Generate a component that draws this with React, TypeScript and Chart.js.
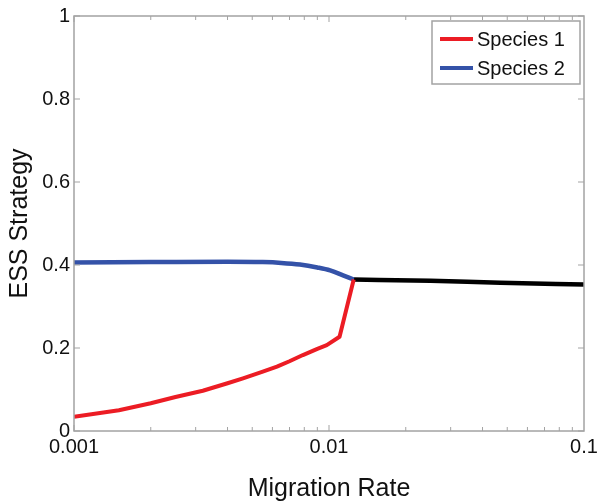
import React, { useEffect, useRef } from "react";
import { Chart, registerables } from "chart.js";

Chart.register(...registerables);

const species1X = [0.001, 0.0015, 0.002, 0.0025, 0.0032, 0.004, 0.0046, 0.0055, 0.00625, 0.007, 0.0079, 0.009, 0.0098, 0.011, 0.0125];
const species1Y = [0.034, 0.05, 0.067, 0.082, 0.097, 0.115, 0.127, 0.143, 0.155, 0.168, 0.183, 0.198, 0.207, 0.227, 0.365];

const species2X = [0.001, 0.002, 0.004, 0.0055, 0.0065, 0.00769, 0.009, 0.0101, 0.01135, 0.0125];
const species2Y = [0.406, 0.407, 0.408, 0.407, 0.405, 0.401, 0.394, 0.387, 0.375, 0.365];

const mergedX = [0.0125, 0.025, 0.047, 0.1];
const mergedY = [0.365, 0.362, 0.357, 0.353];

const xTickValues = [0.001, 0.01, 0.1];
const xTickLabels = ["0.001", "0.01", "0.1"];
const yTickValues = [0, 0.2, 0.4, 0.6, 0.8, 1];
const yTickLabels = ["0", "0.2", "0.4", "0.6", "0.8", "1"];

const legendLabels = ["Species 1", "Species 2"];

const RED = "rgb(236,28,36)";
const BLUE = "rgb(52,82,168)";
const AXIS = "#a3a3a3";
const FONT = '"Liberation Sans", Arial, Helvetica, sans-serif';

const toPoints = (xs: number[], ys: number[]) => xs.map((x, i) => ({ x, y: ys[i] }));

const framePlugin = {
  id: "frame",
  afterDraw(chart: any) {
    const { ctx, chartArea } = chart;
    const { left, right, top, bottom } = chartArea;
    const xs = chart.scales.x;
    const ys = chart.scales.y;
    ctx.save();
    ctx.strokeStyle = AXIS;
    ctx.lineWidth = 1.5;
    ctx.strokeRect(left, top, right - left, bottom - top);
    ctx.lineWidth = 1;
    const tl = 5;
    for (let d = -3; d < -1; d++) {
      for (let m = 1; m <= 9; m++) {
        const v = m * Math.pow(10, d);
        const px = xs.getPixelForValue(v);
        const len = m === 1 ? tl + 1 : tl - 1;
        ctx.beginPath();
        ctx.moveTo(px, bottom);
        ctx.lineTo(px, bottom - len);
        ctx.moveTo(px, top);
        ctx.lineTo(px, top + len);
        ctx.stroke();
      }
    }
    for (const v of yTickValues) {
      const py = ys.getPixelForValue(v);
      ctx.beginPath();
      ctx.moveTo(left, py);
      ctx.lineTo(left + tl + 1, py);
      ctx.moveTo(right, py);
      ctx.lineTo(right - tl - 1, py);
      ctx.stroke();
    }
    const bx = 432, by = 21, bw = 148, bh = 63;
    ctx.fillStyle = "#ffffff";
    ctx.fillRect(bx, by, bw, bh);
    ctx.strokeStyle = AXIS;
    ctx.lineWidth = 1.5;
    ctx.strokeRect(bx, by, bw, bh);
    const colors = [RED, BLUE];
    const rows = [39, 68];
    ctx.font = `20px ${FONT}`;
    ctx.textBaseline = "middle";
    ctx.textAlign = "left";
    legendLabels.forEach((lab, i) => {
      ctx.strokeStyle = colors[i];
      ctx.lineWidth = 4;
      ctx.beginPath();
      ctx.moveTo(440, rows[i]);
      ctx.lineTo(473, rows[i]);
      ctx.stroke();
      ctx.fillStyle = "#111";
      ctx.fillText(lab, 477, rows[i] + 1);
    });
    ctx.restore();
  },
};

export default function App() {
  const ref = useRef<HTMLCanvasElement>(null);
  useEffect(() => {
    if (!ref.current) return;
    const chart = new Chart(ref.current, {
      type: "line",
      data: {
        datasets: [
          {
            label: legendLabels[0],
            data: toPoints(species1X, species1Y),
            borderColor: RED,
            borderWidth: 4,
            pointRadius: 0,
            tension: 0,
            borderJoinStyle: "round",
            fill: false,
          },
          {
            label: legendLabels[1],
            data: toPoints(species2X, species2Y),
            borderColor: BLUE,
            borderWidth: 4.5,
            pointRadius: 0,
            cubicInterpolationMode: "monotone",
            fill: false,
          },
          {
            label: "merged",
            data: toPoints(mergedX, mergedY),
            borderColor: "#000000",
            borderWidth: 4.5,
            pointRadius: 0,
            cubicInterpolationMode: "monotone",
            fill: false,
          },
        ],
      },
      options: {
        responsive: false,
        animation: false,
        layout: { padding: { left: 0, top: 15, right: 22, bottom: 0 } },
        plugins: { legend: { display: false }, tooltip: { enabled: false } },
        scales: {
          x: {
            type: "logarithmic",
            min: 0.001,
            max: 0.1,
            grid: { display: false, drawTicks: false },
            border: { display: false },
            afterBuildTicks: (s: any) => {
              s.ticks = xTickValues.map((v) => ({ value: v }));
            },
            afterFit: (s: any) => {
              s.height = 73;
            },
            ticks: {
              autoSkip: false,
              maxRotation: 0,
              padding: 4,
              color: "#111",
              font: { size: 20, family: FONT },
              callback: (v: any) => {
                const i = xTickValues.findIndex((t) => Math.abs(t - v) < 1e-9);
                return i >= 0 ? xTickLabels[i] : "";
              },
            },
            title: {
              display: true,
              text: "Migration Rate",
              color: "#111",
              font: { size: 25, family: FONT },
              padding: { top: 0, bottom: 0 },
            },
          },
          y: {
            type: "linear",
            min: 0,
            max: 1,
            grid: { display: false, drawTicks: false },
            border: { display: false },
            afterBuildTicks: (s: any) => {
              s.ticks = yTickValues.map((v) => ({ value: v }));
            },
            afterFit: (s: any) => {
              s.width = 74;
            },
            ticks: {
              padding: 4,
              color: "#111",
              font: { size: 20, family: FONT },
              callback: (v: any) => {
                const i = yTickValues.findIndex((t) => Math.abs(t - v) < 1e-9);
                return i >= 0 ? yTickLabels[i] : "";
              },
            },
            title: {
              display: true,
              text: "ESS Strategy",
              color: "#111",
              font: { size: 25, family: FONT },
              padding: { top: 5, bottom: 0 },
            },
          },
        },
      },
      plugins: [framePlugin],
    } as any);
    return () => chart.destroy();
  }, []);
  return (
    <div style={{ position: "absolute", left: 0, top: 0, width: 606, height: 504, background: "#fff" }}>
      <canvas ref={ref} width={606} height={504} />
    </div>
  );
}
